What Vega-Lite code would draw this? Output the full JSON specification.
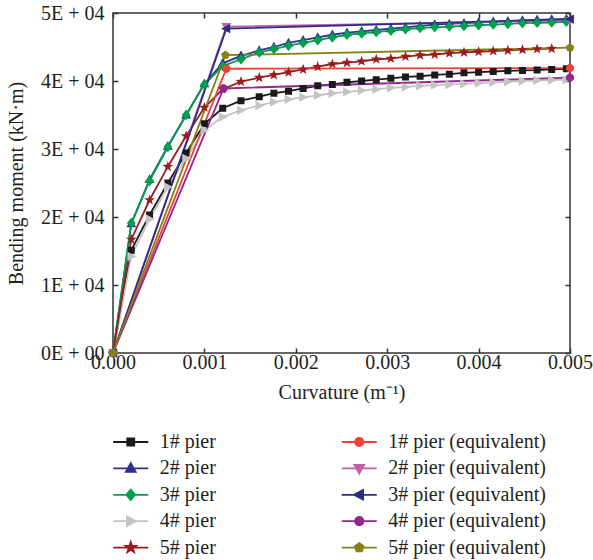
{
  "$schema": "https://vega.github.io/schema/vega-lite/v6.json",
  "width": 457,
  "height": 340,
  "autosize": {"type": "none"},
  "padding": {"left": 113, "top": 13, "right": 23, "bottom": 207},
  "data": {"values": [
    {"series": "1# pier", "curvature": 0, "moment": 0},
    {"series": "1# pier", "curvature": 0.0002, "moment": 15100},
    {"series": "1# pier", "curvature": 0.0004, "moment": 20300},
    {"series": "1# pier", "curvature": 0.0006, "moment": 25000},
    {"series": "1# pier", "curvature": 0.0008, "moment": 29400},
    {"series": "1# pier", "curvature": 0.001, "moment": 33700},
    {"series": "1# pier", "curvature": 0.0012, "moment": 36000},
    {"series": "1# pier", "curvature": 0.0014, "moment": 37100},
    {"series": "1# pier", "curvature": 0.0016, "moment": 37700},
    {"series": "1# pier", "curvature": 0.00176, "moment": 38200},
    {"series": "1# pier", "curvature": 0.00192, "moment": 38500},
    {"series": "1# pier", "curvature": 0.00208, "moment": 38900},
    {"series": "1# pier", "curvature": 0.00224, "moment": 39300},
    {"series": "1# pier", "curvature": 0.0024, "moment": 39500},
    {"series": "1# pier", "curvature": 0.00256, "moment": 39800},
    {"series": "1# pier", "curvature": 0.00272, "moment": 40000},
    {"series": "1# pier", "curvature": 0.00288, "moment": 40200},
    {"series": "1# pier", "curvature": 0.00304, "moment": 40400},
    {"series": "1# pier", "curvature": 0.0032, "moment": 40600},
    {"series": "1# pier", "curvature": 0.00336, "moment": 40700},
    {"series": "1# pier", "curvature": 0.00352, "moment": 40900},
    {"series": "1# pier", "curvature": 0.00368, "moment": 41000},
    {"series": "1# pier", "curvature": 0.00384, "moment": 41200},
    {"series": "1# pier", "curvature": 0.004, "moment": 41300},
    {"series": "1# pier", "curvature": 0.00416, "moment": 41400},
    {"series": "1# pier", "curvature": 0.00432, "moment": 41500},
    {"series": "1# pier", "curvature": 0.00448, "moment": 41550},
    {"series": "1# pier", "curvature": 0.00464, "moment": 41600},
    {"series": "1# pier", "curvature": 0.0048, "moment": 41700},
    {"series": "1# pier", "curvature": 0.00496, "moment": 41800},

    {"series": "2# pier", "curvature": 0, "moment": 0},
    {"series": "2# pier", "curvature": 0.0002, "moment": 19000},
    {"series": "2# pier", "curvature": 0.0004, "moment": 25500},
    {"series": "2# pier", "curvature": 0.0006, "moment": 30400},
    {"series": "2# pier", "curvature": 0.0008, "moment": 35000},
    {"series": "2# pier", "curvature": 0.001, "moment": 39600},
    {"series": "2# pier", "curvature": 0.0012, "moment": 42600},
    {"series": "2# pier", "curvature": 0.0014, "moment": 43700},
    {"series": "2# pier", "curvature": 0.0016, "moment": 44500},
    {"series": "2# pier", "curvature": 0.00176, "moment": 45000},
    {"series": "2# pier", "curvature": 0.00192, "moment": 45600},
    {"series": "2# pier", "curvature": 0.00208, "moment": 46000},
    {"series": "2# pier", "curvature": 0.00224, "moment": 46400},
    {"series": "2# pier", "curvature": 0.0024, "moment": 46800},
    {"series": "2# pier", "curvature": 0.00256, "moment": 47100},
    {"series": "2# pier", "curvature": 0.00272, "moment": 47300},
    {"series": "2# pier", "curvature": 0.00288, "moment": 47500},
    {"series": "2# pier", "curvature": 0.00304, "moment": 47700},
    {"series": "2# pier", "curvature": 0.0032, "moment": 47900},
    {"series": "2# pier", "curvature": 0.00336, "moment": 48100},
    {"series": "2# pier", "curvature": 0.00352, "moment": 48300},
    {"series": "2# pier", "curvature": 0.00368, "moment": 48400},
    {"series": "2# pier", "curvature": 0.00384, "moment": 48500},
    {"series": "2# pier", "curvature": 0.004, "moment": 48600},
    {"series": "2# pier", "curvature": 0.00416, "moment": 48700},
    {"series": "2# pier", "curvature": 0.00432, "moment": 48800},
    {"series": "2# pier", "curvature": 0.00448, "moment": 48900},
    {"series": "2# pier", "curvature": 0.00464, "moment": 49000},
    {"series": "2# pier", "curvature": 0.0048, "moment": 49050},
    {"series": "2# pier", "curvature": 0.00496, "moment": 49100},

    {"series": "3# pier", "curvature": 0, "moment": 0},
    {"series": "3# pier", "curvature": 0.0002, "moment": 19100},
    {"series": "3# pier", "curvature": 0.0004, "moment": 25300},
    {"series": "3# pier", "curvature": 0.0006, "moment": 30300},
    {"series": "3# pier", "curvature": 0.0008, "moment": 35000},
    {"series": "3# pier", "curvature": 0.001, "moment": 39500},
    {"series": "3# pier", "curvature": 0.0012, "moment": 42200},
    {"series": "3# pier", "curvature": 0.0014, "moment": 43200},
    {"series": "3# pier", "curvature": 0.0016, "moment": 44200},
    {"series": "3# pier", "curvature": 0.00176, "moment": 44700},
    {"series": "3# pier", "curvature": 0.00192, "moment": 45200},
    {"series": "3# pier", "curvature": 0.00208, "moment": 45600},
    {"series": "3# pier", "curvature": 0.00224, "moment": 46000},
    {"series": "3# pier", "curvature": 0.0024, "moment": 46400},
    {"series": "3# pier", "curvature": 0.00256, "moment": 46800},
    {"series": "3# pier", "curvature": 0.00272, "moment": 47000},
    {"series": "3# pier", "curvature": 0.00288, "moment": 47200},
    {"series": "3# pier", "curvature": 0.00304, "moment": 47400},
    {"series": "3# pier", "curvature": 0.0032, "moment": 47600},
    {"series": "3# pier", "curvature": 0.00336, "moment": 47800},
    {"series": "3# pier", "curvature": 0.00352, "moment": 47900},
    {"series": "3# pier", "curvature": 0.00368, "moment": 48000},
    {"series": "3# pier", "curvature": 0.00384, "moment": 48100},
    {"series": "3# pier", "curvature": 0.004, "moment": 48200},
    {"series": "3# pier", "curvature": 0.00416, "moment": 48300},
    {"series": "3# pier", "curvature": 0.00432, "moment": 48400},
    {"series": "3# pier", "curvature": 0.00448, "moment": 48500},
    {"series": "3# pier", "curvature": 0.00464, "moment": 48550},
    {"series": "3# pier", "curvature": 0.0048, "moment": 48600},
    {"series": "3# pier", "curvature": 0.00496, "moment": 48700},

    {"series": "4# pier", "curvature": 0, "moment": 0},
    {"series": "4# pier", "curvature": 0.0002, "moment": 14200},
    {"series": "4# pier", "curvature": 0.0004, "moment": 19700},
    {"series": "4# pier", "curvature": 0.0006, "moment": 24400},
    {"series": "4# pier", "curvature": 0.0008, "moment": 28600},
    {"series": "4# pier", "curvature": 0.001, "moment": 32800},
    {"series": "4# pier", "curvature": 0.0012, "moment": 34700},
    {"series": "4# pier", "curvature": 0.0014, "moment": 35700},
    {"series": "4# pier", "curvature": 0.0016, "moment": 36400},
    {"series": "4# pier", "curvature": 0.00176, "moment": 36900},
    {"series": "4# pier", "curvature": 0.00192, "moment": 37300},
    {"series": "4# pier", "curvature": 0.00208, "moment": 37600},
    {"series": "4# pier", "curvature": 0.00224, "moment": 37900},
    {"series": "4# pier", "curvature": 0.0024, "moment": 38200},
    {"series": "4# pier", "curvature": 0.00256, "moment": 38400},
    {"series": "4# pier", "curvature": 0.00272, "moment": 38600},
    {"series": "4# pier", "curvature": 0.00288, "moment": 38800},
    {"series": "4# pier", "curvature": 0.00304, "moment": 39000},
    {"series": "4# pier", "curvature": 0.0032, "moment": 39100},
    {"series": "4# pier", "curvature": 0.00336, "moment": 39300},
    {"series": "4# pier", "curvature": 0.00352, "moment": 39400},
    {"series": "4# pier", "curvature": 0.00368, "moment": 39500},
    {"series": "4# pier", "curvature": 0.00384, "moment": 39600},
    {"series": "4# pier", "curvature": 0.004, "moment": 39700},
    {"series": "4# pier", "curvature": 0.00416, "moment": 39800},
    {"series": "4# pier", "curvature": 0.00432, "moment": 39900},
    {"series": "4# pier", "curvature": 0.00448, "moment": 40000},
    {"series": "4# pier", "curvature": 0.00464, "moment": 40100},
    {"series": "4# pier", "curvature": 0.0048, "moment": 40150},
    {"series": "4# pier", "curvature": 0.00496, "moment": 40200},

    {"series": "5# pier", "curvature": 0, "moment": 0},
    {"series": "5# pier", "curvature": 0.0002, "moment": 16700},
    {"series": "5# pier", "curvature": 0.0004, "moment": 22500},
    {"series": "5# pier", "curvature": 0.0006, "moment": 27400},
    {"series": "5# pier", "curvature": 0.0008, "moment": 31900},
    {"series": "5# pier", "curvature": 0.001, "moment": 36100},
    {"series": "5# pier", "curvature": 0.0012, "moment": 38800},
    {"series": "5# pier", "curvature": 0.0014, "moment": 39900},
    {"series": "5# pier", "curvature": 0.0016, "moment": 40500},
    {"series": "5# pier", "curvature": 0.00176, "moment": 40900},
    {"series": "5# pier", "curvature": 0.00192, "moment": 41300},
    {"series": "5# pier", "curvature": 0.00208, "moment": 41700},
    {"series": "5# pier", "curvature": 0.00224, "moment": 42100},
    {"series": "5# pier", "curvature": 0.0024, "moment": 42500},
    {"series": "5# pier", "curvature": 0.00256, "moment": 42700},
    {"series": "5# pier", "curvature": 0.00272, "moment": 42900},
    {"series": "5# pier", "curvature": 0.00288, "moment": 43200},
    {"series": "5# pier", "curvature": 0.00304, "moment": 43300},
    {"series": "5# pier", "curvature": 0.0032, "moment": 43600},
    {"series": "5# pier", "curvature": 0.00336, "moment": 43800},
    {"series": "5# pier", "curvature": 0.00352, "moment": 43900},
    {"series": "5# pier", "curvature": 0.00368, "moment": 44100},
    {"series": "5# pier", "curvature": 0.00384, "moment": 44200},
    {"series": "5# pier", "curvature": 0.004, "moment": 44300},
    {"series": "5# pier", "curvature": 0.00416, "moment": 44400},
    {"series": "5# pier", "curvature": 0.00432, "moment": 44500},
    {"series": "5# pier", "curvature": 0.00448, "moment": 44600},
    {"series": "5# pier", "curvature": 0.00464, "moment": 44700},
    {"series": "5# pier", "curvature": 0.0048, "moment": 44750},

    {"series": "1# pier (equivalent)", "curvature": 0, "moment": 0},
    {"series": "1# pier (equivalent)", "curvature": 0.00124, "moment": 41800},
    {"series": "1# pier (equivalent)", "curvature": 0.005, "moment": 41900},
    {"series": "2# pier (equivalent)", "curvature": 0, "moment": 0},
    {"series": "2# pier (equivalent)", "curvature": 0.00124, "moment": 48000},
    {"series": "2# pier (equivalent)", "curvature": 0.005, "moment": 48900},
    {"series": "3# pier (equivalent)", "curvature": 0, "moment": 0},
    {"series": "3# pier (equivalent)", "curvature": 0.00124, "moment": 47700},
    {"series": "3# pier (equivalent)", "curvature": 0.005, "moment": 49100},
    {"series": "4# pier (equivalent)", "curvature": 0, "moment": 0},
    {"series": "4# pier (equivalent)", "curvature": 0.00121, "moment": 38900},
    {"series": "4# pier (equivalent)", "curvature": 0.005, "moment": 40500},
    {"series": "5# pier (equivalent)", "curvature": 0, "moment": 0},
    {"series": "5# pier (equivalent)", "curvature": 0.00123, "moment": 43800},
    {"series": "5# pier (equivalent)", "curvature": 0.005, "moment": 44900}
  ]},
  "layer": [
    {
      "mark": {"type": "line", "strokeWidth": 1.8},
      "encoding": {
        "x": {"field": "curvature", "type": "quantitative", "scale": {"domain": [0, 0.005], "nice": false, "zero": false},
              "axis": {"orient": "bottom", "title": "Curvature (m⁻¹)", "values": [0, 0.001, 0.002, 0.003, 0.004, 0.005], "format": ".3f", "labelPadding": 4, "titlePadding": 10, "labelFlush": false}},
        "y": {"field": "moment", "type": "quantitative", "scale": {"domain": [0, 50000], "nice": false},
              "axis": {"orient": "left", "title": "Bending moment (kN·m)", "values": [0, 10000, 20000, 30000, 40000, 50000],
                       "labelExpr": "datum.value == 0 ? '0E + 00' : (datum.value / 10000) + 'E + 04'", "labelPadding": 14, "titlePadding": 14}},
        "stroke": {"field": "series", "type": "nominal", "title": null,
                   "scale": {"domain": ["1# pier", "2# pier", "3# pier", "4# pier", "5# pier", "1# pier (equivalent)", "2# pier (equivalent)", "3# pier (equivalent)", "4# pier (equivalent)", "5# pier (equivalent)"],
                             "range": ["#1a1a1a", "#2e3192", "#00a14b", "#c4c4c4", "#9b1c20", "#ef4136", "#c35ea8", "#2b2e83", "#92278f", "#828215"]}}
      }
    },
    {
      "mark": {"type": "point", "filled": true, "size": 306.25, "opacity": 1},
      "encoding": {
        "x": {"field": "curvature", "type": "quantitative",
              "axis": {"orient": "top", "title": null, "labels": false, "values": [0, 0.001, 0.002, 0.003, 0.004, 0.005]}},
        "y": {"field": "moment", "type": "quantitative",
              "axis": {"orient": "right", "title": null, "labels": false, "values": [0, 10000, 20000, 30000, 40000, 50000]}},
        "fill": {"field": "series", "type": "nominal", "title": null,
                 "scale": {"domain": ["1# pier", "2# pier", "3# pier", "4# pier", "5# pier", "1# pier (equivalent)", "2# pier (equivalent)", "3# pier (equivalent)", "4# pier (equivalent)", "5# pier (equivalent)"],
                           "range": ["#1a1a1a", "#2e3192", "#00a14b", "#c4c4c4", "#9b1c20", "#ef4136", "#c35ea8", "#2b2e83", "#92278f", "#828215"]}},
        "stroke": {"field": "series", "type": "nominal", "title": null},
        "shape": {"field": "series", "type": "nominal", "title": null,
                  "scale": {"domain": ["1# pier", "2# pier", "3# pier", "4# pier", "5# pier", "1# pier (equivalent)", "2# pier (equivalent)", "3# pier (equivalent)", "4# pier (equivalent)", "5# pier (equivalent)"],
                            "range": [
                              "M-2,0H2M-0.4,-0.4H0.4V0.4H-0.4Z",
                              "M-2,0H2M0,-0.6L0.56,0.4H-0.56Z",
                              "M-2,0H2M0,-0.6L0.5,0L0,0.6L-0.5,0Z",
                              "M-2,0H2M0.6,0L-0.44,0.54V-0.54Z",
                              "M-2,0H2M0,-0.64L0.152,-0.21L0.608,-0.198L0.248,0.08L0.376,0.518L0,0.26L-0.376,0.518L-0.248,0.08L-0.608,-0.198L-0.152,-0.21Z",
                              "M-2,0H2M0.48,0A0.48,0.48,0,1,1,-0.48,0A0.48,0.48,0,1,1,0.48,0Z",
                              "M-2,0H2M0,0.6L0.56,-0.4H-0.56Z",
                              "M-2,0H2M-0.6,0L0.44,-0.54V0.54Z",
                              "M-2,0H2M0.48,0A0.48,0.48,0,1,1,-0.48,0A0.48,0.48,0,1,1,0.48,0Z",
                              "M-2,0H2M0,-0.52L0.494,-0.16L0.306,0.42L-0.306,0.42L-0.494,-0.16Z"
                            ]}},
        "strokeWidth": {"value": 0}
      }
    }
  ],
  "resolve": {"axis": {"x": "independent", "y": "independent"}},
  "config": {
    "font": "Liberation Serif",
    "view": {"stroke": "#333333", "strokeWidth": 1.5},
    "axis": {"labelFont": "Liberation Serif", "titleFont": "Liberation Serif", "labelFontSize": 20, "titleFontSize": 20,
             "titleFontWeight": "normal", "labelColor": "#231f20", "titleColor": "#231f20", "domain": false, "grid": false,
             "tickColor": "#333333", "tickWidth": 1.5, "tickSize": -5},
    "legend": {"orient": "none", "legendX": 7.75, "legendY": 419, "columns": 2, "gridAlign": "all", "columnPadding": 19.5, "rowPadding": 6.4,
               "symbolSize": 306.25, "symbolStrokeWidth": 1.8, "labelFont": "Liberation Serif", "labelFontSize": 20, "labelColor": "#231f20",
               "labelOffset": 19, "padding": 0}
  }
}
